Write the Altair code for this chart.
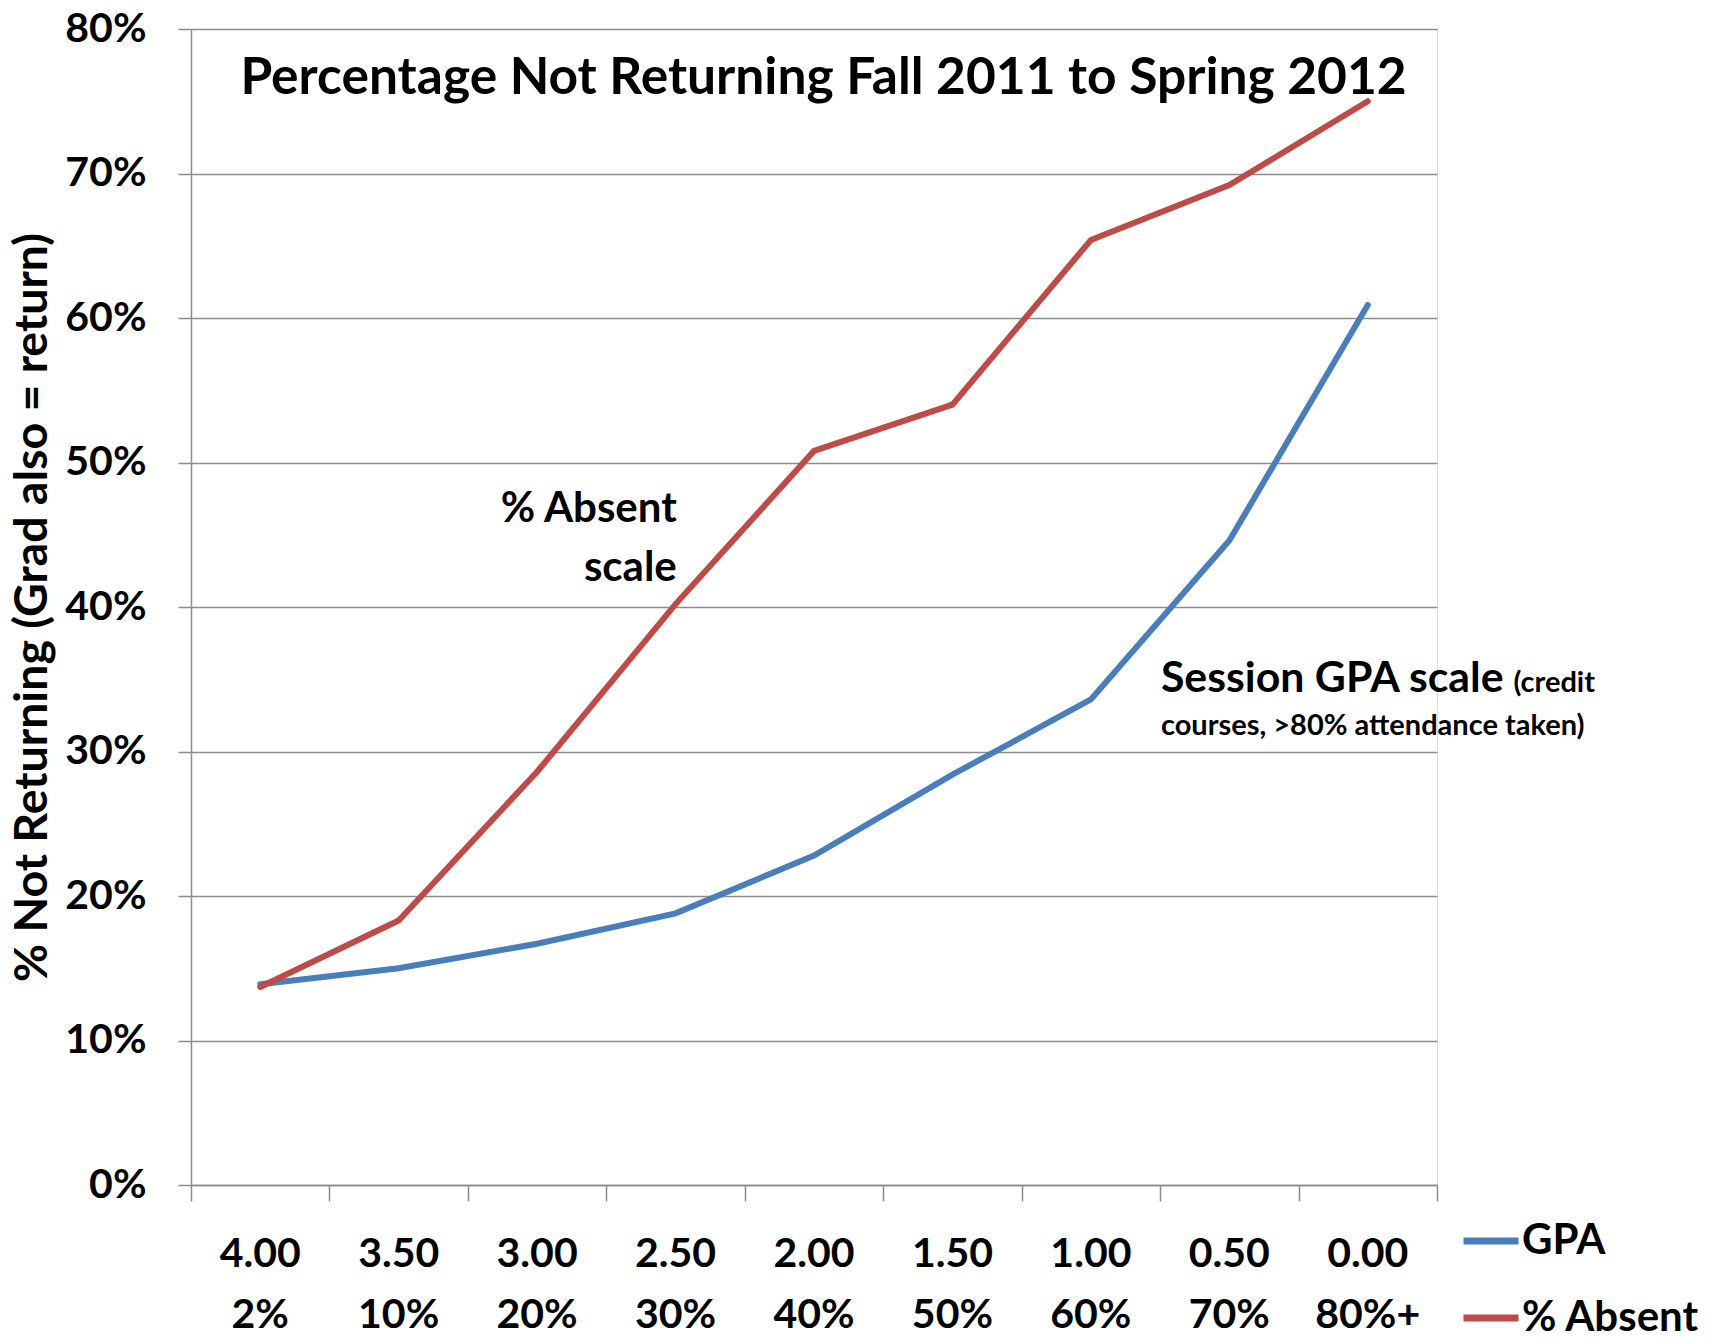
import altair as alt
import pandas as pd

# ---- data ----
gpa_labels = ["4.00", "3.50", "3.00", "2.50", "2.00", "1.50", "1.00", "0.50", "0.00"]
absent_labels = ["2%", "10%", "20%", "30%", "40%", "50%", "60%", "70%", "80%+"]
gpa_values = [0.139, 0.150, 0.167, 0.188, 0.228, 0.284, 0.336, 0.446, 0.609]
absent_values = [0.137, 0.183, 0.286, 0.402, 0.508, 0.540, 0.654, 0.692, 0.750]
series_names = ["GPA", "% Absent"]
series_colors = ["#4A7EBB", "#BE4B48"]
y_ticks = [0, 0.1, 0.2, 0.3, 0.4, 0.5, 0.6, 0.7, 0.8]

W, H = 1246, 1156
GRID = "#8c8c8c"
FONT = "Lato"

pos = [i + 0.5 for i in range(len(gpa_labels))]
gpa_df = pd.DataFrame({"pos": pos, "value": gpa_values, "series": series_names[0]})
abs_df = pd.DataFrame({"pos": pos, "value": absent_values, "series": series_names[1]})
lab_df = pd.DataFrame({"pos": pos,
                       "text": [f"{g}\n{a}" for g, a in zip(gpa_labels, absent_labels)]})

xscale = alt.Scale(domain=[0, len(gpa_labels)], nice=False, zero=False)
yscale = alt.Scale(domain=[0, 0.8], nice=False)

x_enc = alt.X("pos:Q", scale=xscale,
              axis=alt.Axis(values=list(range(len(gpa_labels) + 1)), labels=False,
                            title=None, grid=False, tickSize=16, tickColor=GRID,
                            tickWidth=1.5, domainColor=GRID, domainWidth=1.5))
y_enc = alt.Y("value:Q", scale=yscale,
              axis=alt.Axis(values=y_ticks, format=".0%", grid=True, gridColor=GRID,
                            gridWidth=1.5, tickSize=13, tickColor=GRID, tickWidth=1.5,
                            domainColor=GRID, domainWidth=1.5,
                            labelFont=FONT, labelFontSize=41, labelFontWeight="bold",
                            labelColor="black", labelPadding=32,
                            title="% Not Returning (Grad also = return)",
                            titleFont=FONT, titleFontSize=46.5,
                            titleFontWeight="bold", titleColor="black", titlePadding=8))
color_enc = alt.Color("series:N",
                      scale=alt.Scale(domain=series_names, range=series_colors),
                      legend=alt.Legend(title=None, orient="none", legendX=1269,
                                        legendY=1181, symbolType="stroke",
                                        symbolSize=3025, symbolStrokeWidth=7,
                                        labelFont=FONT, labelFontSize=42,
                                        labelFontWeight="bold", labelColor="black",
                                        labelOffset=0, rowPadding=25, labelLimit=400))

gpa_line = alt.Chart(gpa_df).mark_line(strokeWidth=6, strokeCap="round").encode(
    x=x_enc, y=y_enc, color=color_enc)
abs_line = alt.Chart(abs_df).mark_line(strokeWidth=6, strokeCap="round").encode(
    x=x_enc, y=y_enc, color=color_enc)

xlabels = alt.Chart(lab_df).mark_text(
    lineBreak="\n", font=FONT, fontSize=41, fontWeight="bold", color="black",
    baseline="alphabetic", align="center", lineHeight=61
).encode(x=alt.X("pos:Q", scale=xscale), y=alt.value(H + 82), text="text:N")

# annotations (positions in data coordinates)
title_df = pd.DataFrame({"x": [4.569], "y": [0.755],
                         "t": ["Percentage Not Returning Fall 2011 to Spring 2012"]})
abs_note_df = pd.DataFrame({"x": [3.509, 3.509], "y": [0.4585, 0.4182],
                            "t": ["% Absent", "scale"]})
gpa_note_df = pd.DataFrame({"x": [7.006], "y": [0.3414], "t": ["Session GPA scale"]})
small_note_df = pd.DataFrame({"x": [9.552, 7.006], "y": [0.3414, 0.3116],
                              "t": ["(credit", "courses, >80% attendance taken)"]})

def text_layer(df, size, align):
    return alt.Chart(df).mark_text(font=FONT, fontSize=size, fontWeight="bold",
                                   color="black", align=align, baseline="alphabetic"
                                   ).encode(x=alt.X("x:Q", scale=xscale),
                                            y=alt.Y("y:Q", scale=yscale), text="t:N")

title = text_layer(title_df, 51.5, "center")
abs_note = text_layer(abs_note_df, 42, "right")
gpa_note = text_layer(gpa_note_df, 42.8, "left")
small_note = text_layer(small_note_df, 29, "left")

chart = alt.layer(gpa_line, abs_line, xlabels, title, abs_note, gpa_note, small_note).properties(
    width=W, height=H,
    autosize=alt.AutoSizeParams(type="none"),
    padding={"left": 183, "top": 21, "right": 270, "bottom": 149},
).configure_view(stroke=None).configure(background="white")

chart.save("out.html", embed_options={"renderer": "svg", "actions": False})
